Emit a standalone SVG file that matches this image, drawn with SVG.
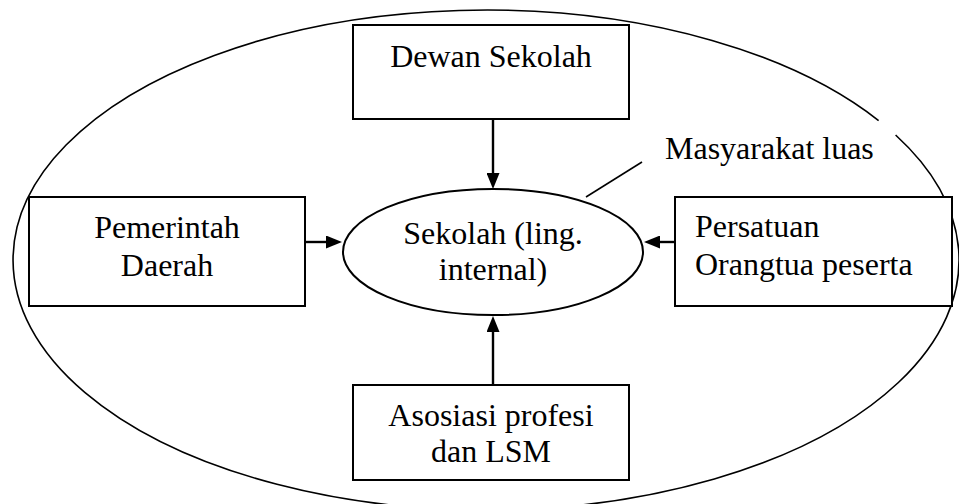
<svg xmlns="http://www.w3.org/2000/svg" width="959" height="504" viewBox="0 0 959 504">
<style>
.box{fill:#fff;stroke:#000;stroke-width:2}
.t{font-family:'Liberation Serif','Times New Roman','DejaVu Serif',serif;font-size:32px;fill:#000}
.c{text-anchor:middle}
.conn{stroke:#000;stroke-width:2.4;fill:none}
</style>
<defs>
<marker id="arr" viewBox="0 0 16 13" refX="0" refY="6.5" markerWidth="16" markerHeight="13" markerUnits="userSpaceOnUse" orient="auto">
<path d="M0,0 L16,6.5 L0,13 z" fill="#000"/>
</marker>
</defs>
<rect width="959" height="504" fill="#fff"/>
<g id="masyarakat-luas">
<path d="M895.6 135 A473 250 0 1 1 878.6 120.6" fill="none" stroke="#000" stroke-width="1.6"/>
<text class="t" x="665" y="159" font-family="Liberation Serif, serif">Masyarakat luas</text>
</g>
<g id="dewan-sekolah">
<rect class="box" x="353" y="25" width="276" height="94"/>
<text class="t c" x="491" y="67" font-family="Liberation Serif, serif">Dewan Sekolah</text>
</g>
<g id="pemerintah-daerah">
<rect class="box" x="29" y="197" width="276" height="109"/>
<text class="t c" x="167" y="238" font-family="Liberation Serif, serif">Pemerintah</text>
<text class="t c" x="167" y="276" font-family="Liberation Serif, serif">Daerah</text>
</g>
<g id="persatuan-orangtua">
<rect class="box" x="675" y="197" width="277" height="109"/>
<text class="t" x="695" y="237" font-family="Liberation Serif, serif">Persatuan</text>
<text class="t" x="695" y="275" font-family="Liberation Serif, serif">Orangtua peserta</text>
</g>
<g id="asosiasi-profesi">
<rect class="box" x="353" y="385" width="276" height="95"/>
<text class="t c" x="491" y="426" font-family="Liberation Serif, serif">Asosiasi profesi</text>
<text class="t c" x="491" y="462" font-family="Liberation Serif, serif">dan LSM</text>
</g>
<g id="sekolah">
<ellipse cx="493" cy="252" rx="150" ry="63" fill="#fff" stroke="#000" stroke-width="2"/>
<text class="t c" x="493" y="244" font-family="Liberation Serif, serif">Sekolah (ling.</text>
<text class="t c" x="493" y="280" font-family="Liberation Serif, serif">internal)</text>
</g>
<g id="connectors">
<line class="conn" x1="493" y1="119" x2="493" y2="173" marker-end="url(#arr)"/>
<line class="conn" x1="305" y1="242" x2="326" y2="242" marker-end="url(#arr)"/>
<line class="conn" x1="675" y1="242" x2="660" y2="242" marker-end="url(#arr)"/>
<line class="conn" x1="493" y1="385" x2="493" y2="332" marker-end="url(#arr)"/>
<line stroke="#000" stroke-width="1.6" x1="642" y1="162" x2="586" y2="197"/>
</g>
</svg>
